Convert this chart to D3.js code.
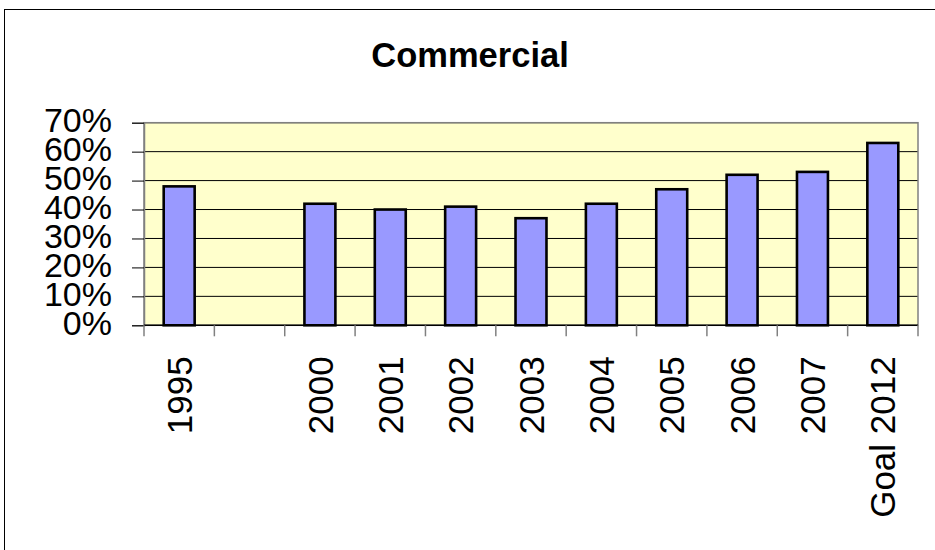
<!DOCTYPE html>
<html>
<head>
<meta charset="utf-8">
<script src="https://cdn.jsdelivr.net/npm/d3@7"></script>
<style>
  body { margin: 0; background: #fff; }
  svg { display: block; font-family: "Liberation Sans", Arial, sans-serif; }
</style>
</head>
<body>
<svg id="chart" width="935" height="550"></svg>
<script>
// categories along the x axis (the second slot is left empty in the original)
let categories = ["1995", "", "2000", "2001", "2002", "2003", "2004", "2005", "2006", "2007", "Goal 2012"];
let values = [48, null, 42, 40, 41, 37, 42, 47, 52, 53, 63];
let yTicks = [0, 10, 20, 30, 40, 50, 60, 70];

let svg = d3.select("#chart");

// outer chart border
svg.append("rect")
    .attr("x", 4.5).attr("y", 9.5)
    .attr("width", 950).attr("height", 560)
    .attr("fill", "none")
    .attr("stroke", "#000");

svg.append("text")
    .attr("x", 470).attr("y", 67)
    .attr("text-anchor", "middle")
    .attr("font-size", 34.5)
    .attr("font-weight", "bold")
    .text("Commercial");

let margin = {top: 122.7, left: 144, right: 17, bottom: 224.7};
let width = 935 - margin.left - margin.right;
let height = 550 - margin.top - margin.bottom;
let g = svg.append("g").attr("transform", "translate(" + margin.left + "," + margin.top + ")");

let x = d3.scaleBand().domain(categories).range([0, width]);
let xBar = d3.scaleBand().domain(categories).range([0, width]).paddingInner(0.56).paddingOuter(0.28);
let y = d3.scaleLinear().domain([0, 70]).range([height, 0]);

// plot background
g.append("rect")
    .attr("width", width).attr("height", height)
    .attr("fill", "#ffffcc");

// gridlines
g.append("g")
    .selectAll("line")
    .data(yTicks.slice(1))
    .enter().append("line")
    .attr("x1", 0).attr("x2", width)
    .attr("y1", d => y(d)).attr("y2", d => y(d))
    .attr("stroke", "#000")
    .attr("stroke-width", 1);

// plot border
g.append("rect")
    .attr("width", width).attr("height", height)
    .attr("fill", "none")
    .attr("stroke", "#808080")
    .attr("stroke-width", 1.5);

// bars
g.append("g")
    .selectAll("rect")
    .data(categories.map((c, i) => ({cat: c, value: values[i]})).filter(d => d.value != null))
    .enter().append("rect")
    .attr("x", d => xBar(d.cat))
    .attr("y", d => y(d.value))
    .attr("width", xBar.bandwidth())
    .attr("height", d => height - y(d.value))
    .attr("fill", "#9999ff")
    .attr("stroke", "#000")
    .attr("stroke-width", 2.6);

// y axis
let yAxis = g.append("g")
    .call(d3.axisLeft(y).tickValues(yTicks).tickFormat(d => d + "%").tickSize(12).tickPadding(20));
yAxis.select(".domain").attr("stroke", "#808080").attr("stroke-width", 1.5);
yAxis.selectAll(".tick line").attr("stroke", "#000");
yAxis.selectAll(".tick text")
    .attr("font-size", 34)
    .attr("fill", "#000")
    .attr("font-family", "Liberation Sans, Arial, sans-serif")
    .attr("dy", "0.27em");

// x axis line and boundary ticks
g.append("line")
    .attr("x1", 0).attr("x2", width)
    .attr("y1", height).attr("y2", height)
    .attr("stroke", "#000")
    .attr("stroke-width", 1.5);

g.append("g")
    .selectAll("line")
    .data(categories.map(c => x(c)).concat([width]))
    .enter().append("line")
    .attr("x1", d => d).attr("x2", d => d)
    .attr("y1", height).attr("y2", height + 11)
    .attr("stroke", "#808080")
    .attr("stroke-width", 1.5);

// x labels, rotated
let xAxis = g.append("g")
    .attr("transform", "translate(0," + height + ")")
    .call(d3.axisBottom(x).tickSize(0));
xAxis.select(".domain").remove();
xAxis.selectAll(".tick text")
    .attr("font-size", 35)
    .attr("fill", "#000")
    .attr("font-family", "Liberation Sans, Arial, sans-serif")
    .attr("transform", "rotate(-90)")
    .attr("text-anchor", "end")
    .attr("x", -31)
    .attr("y", 0)
    .attr("dy", "0.36em");
</script>
</body>
</html>
